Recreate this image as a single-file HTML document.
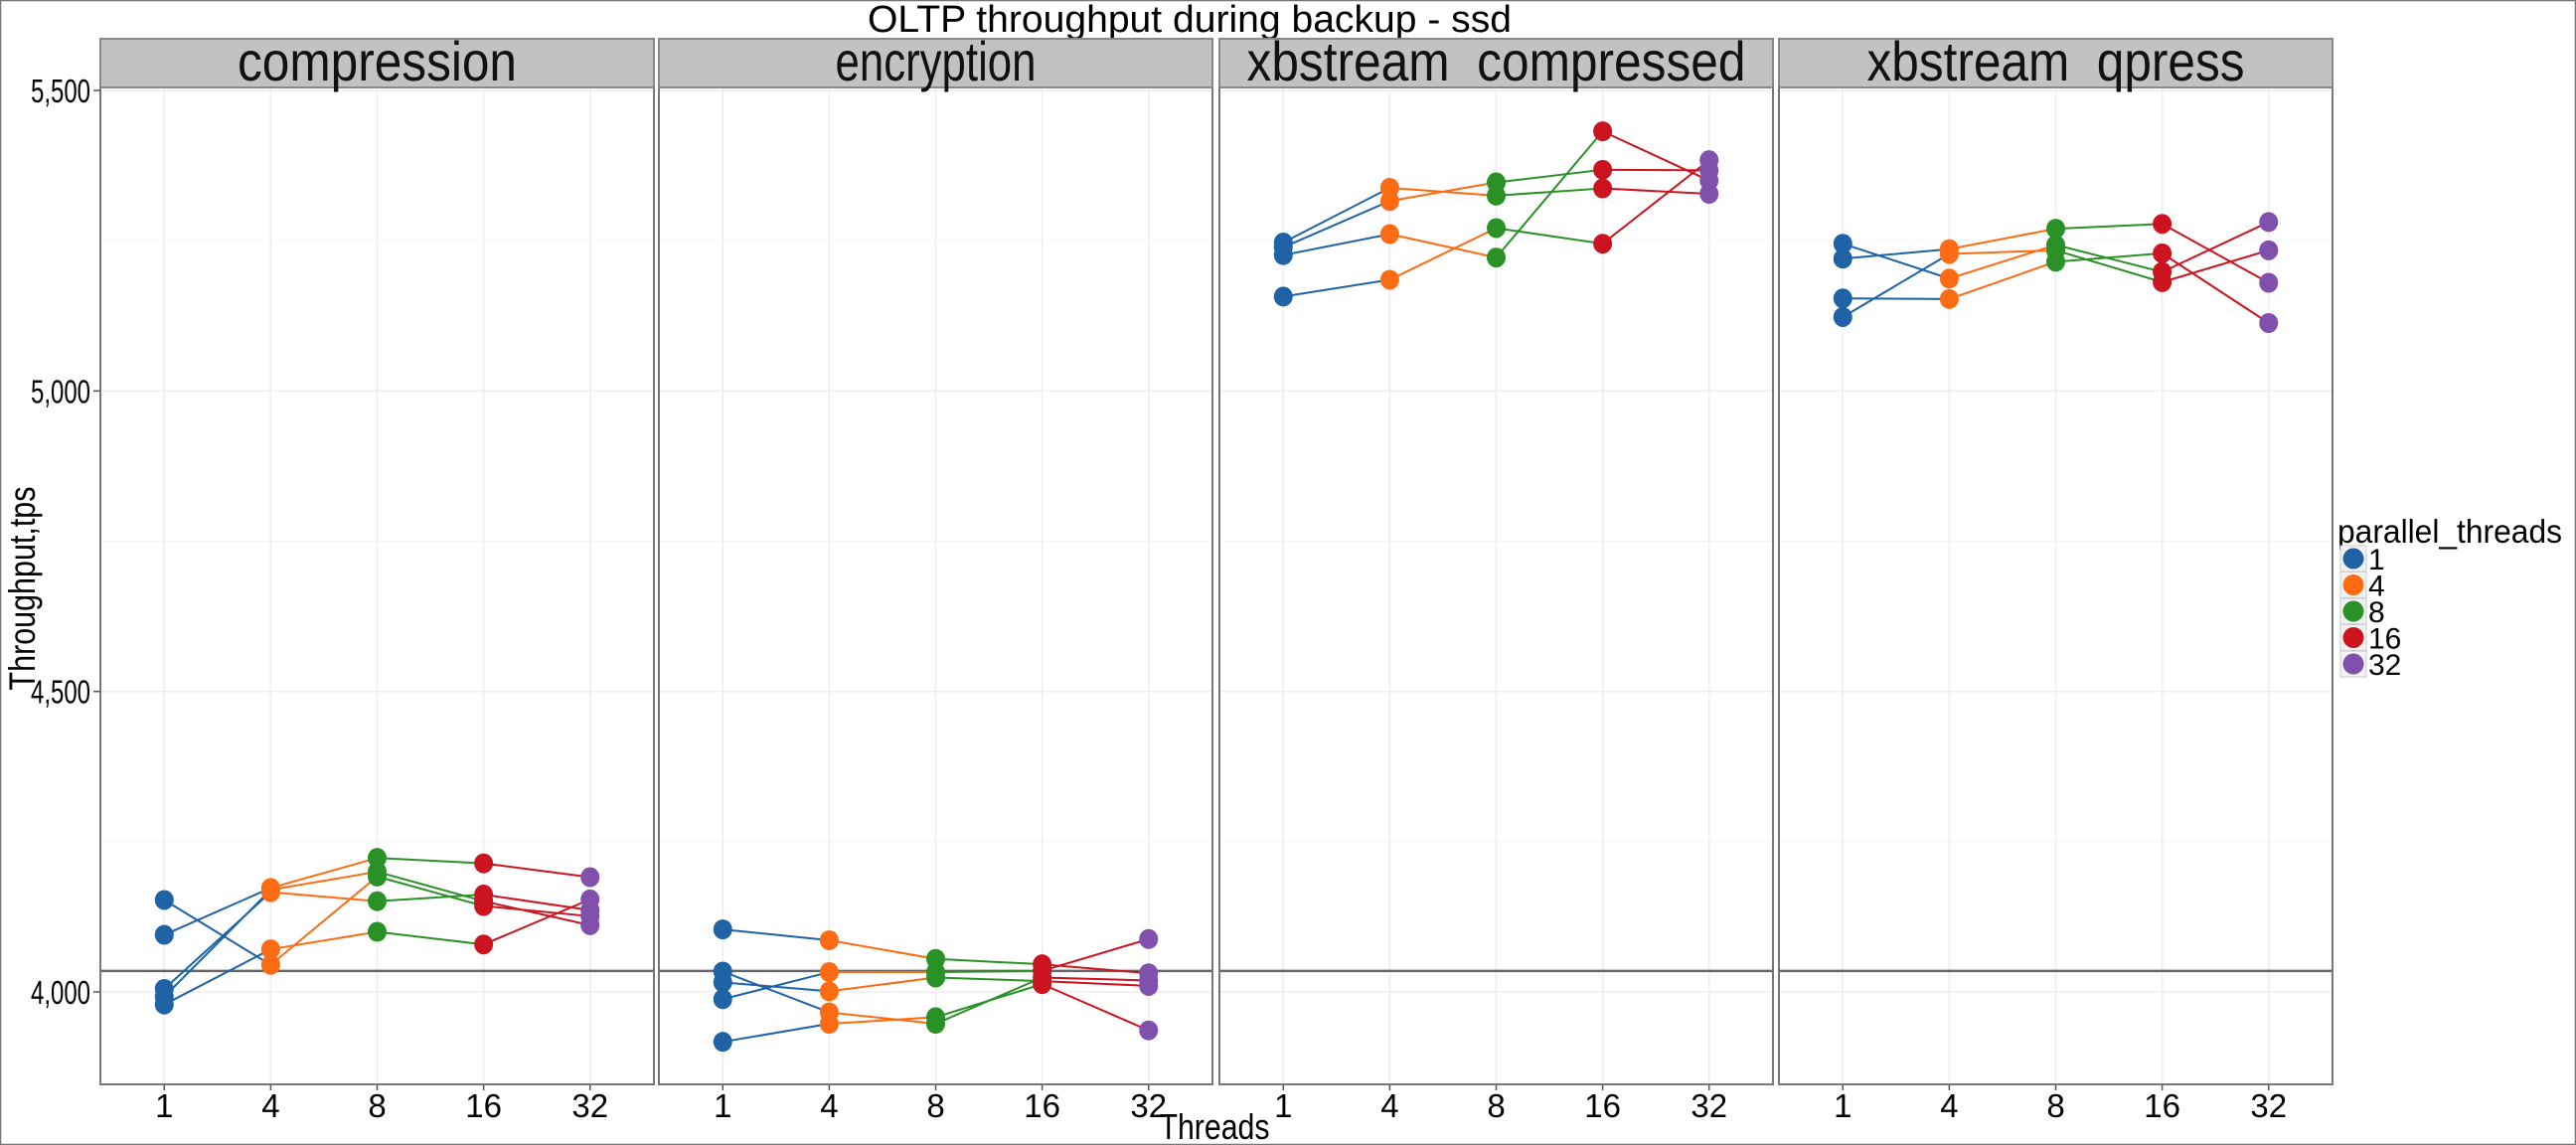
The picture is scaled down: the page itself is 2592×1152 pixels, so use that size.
<!DOCTYPE html>
<html><head><meta charset="utf-8"><style>
html,body{margin:0;padding:0;background:#fff}
svg{display:block;font-family:"Liberation Sans",Arial,sans-serif}
</style></head><body>
<svg id="chart" width="2592" height="1152" viewBox="0 0 2592 1152" xmlns="http://www.w3.org/2000/svg">
<rect x="0.5" y="0.5" width="2591" height="1151" fill="#fff" stroke="#777" stroke-width="1.5"/>
<text x="1197" y="32" font-size="38" text-anchor="middle" textLength="648" lengthAdjust="spacingAndGlyphs">OLTP throughput during backup - ssd</text>
<text x="1222" y="1146" font-size="36" text-anchor="middle" textLength="111" lengthAdjust="spacingAndGlyphs">Threads</text>
<text transform="translate(35,592) rotate(-90)" font-size="37" text-anchor="middle" textLength="205" lengthAdjust="spacingAndGlyphs">Throughput,tps</text>
<g id="panels"></g>
<g id="legend">
<text x="2352" y="546" font-size="33" textLength="226" lengthAdjust="spacingAndGlyphs">parallel_threads</text>
</g>
</svg>
<script>
const categories = ["1","4","8","16","32"];
const facets = ["compression","encryption","xbstream  compressed","xbstream  qpress"];
const yTicks = [4000,4500,5000,5500];
const yTickLabels = ["4,000","4,500","5,000","5,500"];
const legendLabels = ["1","4","8","16","32"];
const refLine = 4035;
const compressionRuns = [
  [3979,4071,4100,4079,4154],
  [4153,4045,4192,4143,4126],
  [4095,4173,4223,4214,4191],
  [4005,4166,4151,4162,4136],
  [3992,4170,4200,4151,4111]
];
const encryptionRuns = [
  [4104,4086,4055,4046,4031],
  [4034,3966,3947,4024,4019],
  [4016,4001,4024,4018,4010],
  [3988,4033,4033,4035,4088],
  [3917,3947,3958,4013,3936]
];
const xbCompressedRuns = [
  [5157,5185,5271,5245,5384],
  [5226,5261,5222,5432,5350],
  [5247,5338,5325,5337,5328],
  [5239,5316,5347,5368,5367]
];
const xbQpressRuns = [
  [5245,5187,5243,5198,5281],
  [5220,5236,5270,5278,5180],
  [5154,5153,5215,5229,5113],
  [5123,5228,5234,5181,5234]
];
const allRuns = [compressionRuns, encryptionRuns, xbCompressedRuns, xbQpressRuns];

const colors = ["#1f63a6","#fd6b12","#2a9126","#cb1420","#8050ad"];
const NS = "http://www.w3.org/2000/svg";
const panelX = [101,663,1227,1790];
const panelW = 557;
const pTop = 88, pBot = 1091, stripTop = 39;
const yScale = v => 998 - (v - 4000) * (907 / 1500);
const xScale = (px, i) => px + panelW * (0.6 + i) / 5.2;
function mk(tag, attrs, parent){const e=document.createElementNS(NS,tag);for(const k in attrs)e.setAttribute(k,attrs[k]);parent.appendChild(e);return e;}
const panels = document.getElementById('panels');
const stripLens = [281,202,502,380];

facets.forEach((f, fi) => {
  const px = panelX[fi];
  const g = mk('g', {}, panels);
  
  
  const bg = mk('rect', {x:px, y:pTop, width:panelW, height:pBot-pTop, fill:'#fff'}, g);
  
  
  for (let v = 3750; v <= 5500; v += 250) {
    if (v % 500 === 0) continue;
    const y = yScale(v); if (y < pTop || y > pBot) continue;
    const l = mk('line', {x1:px, x2:px+panelW, y1:y, y2:y, stroke:'#f6f6f6', 'stroke-width':1}, g);
    
    
  }
  yTicks.forEach(v => {
    const y = yScale(v);
    const l = mk('line', {x1:px, x2:px+panelW, y1:y, y2:y, stroke:'#eeeeee', 'stroke-width':1.5}, g);
    
    
  });
  categories.forEach((c, i) => {
    const x = xScale(px, i);
    const l = mk('line', {x1:x, x2:x, y1:pTop, y2:pBot, stroke:'#eeeeee', 'stroke-width':1.5}, g);
    
    
    const t = mk('text', {x:x, y:1124, 'font-size':33, 'text-anchor':'middle'}, g);
    
    
    t.textContent = c;
    const tk = mk('line', {x1:x, x2:x, y1:pBot, y2:pBot+6, stroke:'#555', 'stroke-width':1.5}, g);
    
    
  });
  const hl = mk('line', {x1:px, x2:px+panelW, y1:yScale(refLine), y2:yScale(refLine), stroke:'#666', 'stroke-width':2.5}, g);
  
  
  const runs = allRuns[fi];
  runs.forEach((run, ri) => {
    for (let i = 0; i < run.length - 1; i++) {
      const s = mk('line', {x1:xScale(px,i), y1:yScale(run[i]), x2:xScale(px,i+1), y2:yScale(run[i+1]), stroke:colors[i], 'stroke-width':2}, g);
      
      
    }
  });
  runs.forEach((run, ri) => {
    run.forEach((v, i) => {
      const p = mk('ellipse', {cx:xScale(px,i), cy:yScale(v), rx:9.5, ry:10, fill:colors[i]}, g);
      
      
    });
  });
  const br = mk('rect', {x:px, y:pTop, width:panelW, height:pBot-pTop, fill:'none', stroke:'#777', 'stroke-width':2}, g);
  
  
  const st = mk('rect', {x:px, y:stripTop, width:panelW, height:pTop-stripTop, fill:'#c2c2c2', stroke:'#888', 'stroke-width':2}, g);
  
  
  const stt = mk('text', {x:px+panelW/2, y:81, 'font-size':56, 'text-anchor':'middle', fill:'#111', textLength:stripLens[fi], lengthAdjust:'spacingAndGlyphs'}, g);
  
  
  stt.setAttribute('xml:space', 'preserve');
  stt.style.whiteSpace = 'pre';
  stt.textContent = f;
});
const ax = mk('g', {}, panels);


yTicks.forEach((v, i) => {
  const y = yScale(v);
  const t = mk('text', {x:91, y:y+12, 'font-size':33, 'text-anchor':'end', textLength:60, lengthAdjust:'spacingAndGlyphs'}, ax);
  
  
  t.textContent = yTickLabels[i];
  const tk = mk('line', {x1:94, x2:101, y1:y, y2:y, stroke:'#555', 'stroke-width':1.5}, ax);
  
  
});
const lg = document.getElementById('legend');
legendLabels.forEach((lab, i) => {
  const cy = 562 + i * 26.5;
  const k = mk('rect', {x:2355, y:cy-13, width:26, height:26, fill:'#f2f2f2', stroke:'#ccc', 'stroke-width':1}, lg);
  
  
  const c = mk('circle', {cx:2368, cy:cy, r:10.5, fill:colors[i]}, lg);
  
  
  const t = mk('text', {x:2383, y:cy+11, 'font-size':30}, lg);
  
  
  t.textContent = lab;
});
</script>
</body></html>
